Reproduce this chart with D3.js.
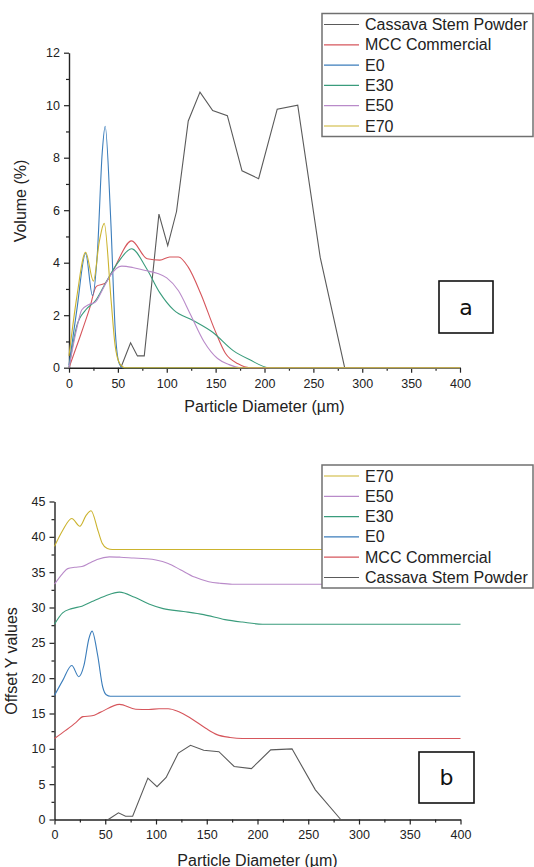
<!DOCTYPE html>
<html>
<head>
<meta charset="utf-8">
<script src="https://cdn.jsdelivr.net/npm/d3@7"></script>
<style>
  body { margin: 0; background: #fff; }
  svg { font-family: "Liberation Sans", Arial, sans-serif; }
</style>
</head>
<body>
<script>
// series (particle diameter in µm, volume in %)
const seriesNames = ["Cassava Stem Powder", "MCC Commercial", "E0", "E30", "E50", "E70"];

const cassavaX = [53, 63, 70, 77, 92, 101, 110, 122, 134, 147, 162, 177, 194, 213, 234, 257, 282];
const cassavaY = [0, 0.95, 0.45, 0.45, 5.85, 4.65, 5.95, 9.4, 10.5, 9.8, 9.6, 7.5, 7.2, 9.85, 10.0, 4.2, 0];

const mccX = [0, 11, 21, 28, 37, 45, 64, 80, 93, 103, 112, 122, 135, 149, 160, 173, 185, 400];
const mccY = [0, 1.15, 2.25, 3.1, 3.22, 3.7, 4.83, 4.15, 4.1, 4.22, 4.22, 3.83, 2.8, 1.45, 0.55, 0.15, 0, 0];

const e0X = [0, 8, 17, 24, 29, 34, 37, 42.5, 47.5, 51, 55, 400];
const e0Y = [0.1, 2.2, 4.35, 2.75, 4.35, 8.2, 9.2, 5.8, 1.3, 0.2, 0, 0];

const e30X = [0, 8, 17, 27, 37, 50, 64, 79, 93, 107, 127, 147, 168, 185, 205, 400];
const e30Y = [0, 1.6, 2.2, 2.55, 3.2, 4.0, 4.53, 3.8, 2.85, 2.2, 1.8, 1.35, 0.65, 0.3, 0, 0];

const e50X = [0, 8, 13, 20, 27, 34, 42, 54, 65, 78, 90, 100, 112, 124, 138, 152, 163, 175, 400];
const e50Y = [0, 1.5, 2.2, 2.4, 2.5, 2.95, 3.5, 3.87, 3.82, 3.7, 3.6, 3.42, 2.93, 2.05, 1.0, 0.35, 0.13, 0, 0];

const e70X = [0, 8, 17, 25, 31, 36, 43, 47, 52, 57, 400];
const e70Y = [0.45, 2.7, 4.4, 3.3, 4.8, 5.5, 2.6, 0.9, 0.15, 0, 0];

// vertical offsets used in panel b
const offsets = [0, 11.46, 17.45, 27.64, 33.3, 38.2];

const xTicks = [0, 50, 100, 150, 200, 250, 300, 350, 400];
const xMinor = [25, 75, 125, 175, 225, 275, 325, 375];
const yTicksA = [0, 2, 4, 6, 8, 10, 12];
const yMinorA = [1, 3, 5, 7, 9, 11];
const yTicksB = [0, 5, 10, 15, 20, 25, 30, 35, 40, 45];
const yMinorB = [2.5, 7.5, 12.5, 17.5, 22.5, 27.5, 32.5, 37.5, 42.5];

const colors = ["#5a5a5a", "#d6565c", "#3b7dbb", "#3a9c7c", "#b98ac9", "#cbb32e"];

const xs = [cassavaX, mccX, e0X, e30X, e50X, e70X];
const ys = [cassavaY, mccY, e0Y, e30Y, e50Y, e70Y];
const series = seriesNames.map(function(name, i) {
  return {
    name: name,
    color: colors[i],
    offset: offsets[i],
    points: xs[i].map(function(x, j) { return {x: x, y: ys[i][j]}; })
  };
});

const svg = d3.select("body")
  .append("svg")
  .attr("width", 534)
  .attr("height", 867);

function drawPanel(p) {
  const x = d3.scaleLinear().domain([0, 400]).range(p.xRange);
  const y = d3.scaleLinear().domain(p.yDomain).range(p.yRange);
  const g = svg.append("g");

  // minor ticks
  g.append("g")
    .attr("transform", "translate(0," + p.yRange[0] + ")")
    .call(d3.axisBottom(x).tickValues(xMinor).tickSize(3).tickFormat(""))
    .call(function(a) { a.select(".domain").remove(); });
  g.append("g")
    .attr("transform", "translate(" + p.xRange[0] + ",0)")
    .call(d3.axisLeft(y).tickValues(p.yMinor).tickSize(3).tickFormat(""))
    .call(function(a) { a.select(".domain").remove(); });

  g.append("g")
    .attr("transform", "translate(0," + p.yRange[0] + ")")
    .call(d3.axisBottom(x).tickValues(xTicks).tickSize(5).tickSizeOuter(0).tickPadding(6));
  g.append("g")
    .attr("transform", "translate(" + p.xRange[0] + ",0)")
    .call(d3.axisLeft(y).tickValues(p.yTicks).tickSize(5).tickSizeOuter(0).tickPadding(4));

  g.selectAll(".domain").attr("stroke", "#222").attr("stroke-width", 1.4);
  g.selectAll(".tick line").attr("stroke", "#222").attr("stroke-width", 1.2);
  g.selectAll(".tick text")
    .attr("font-family", "Liberation Sans, Arial, sans-serif")
    .attr("font-size", 12.5)
    .attr("fill", "#222");

  series.forEach(function(s) {
    const lg = d3.line()
      .x(function(d) { return x(d.x); })
      .y(function(d) { return y(d.y + (p.useOffset ? s.offset : 0)); })
      .curve(s.name === "Cassava Stem Powder" ? d3.curveLinear : d3.curveMonotoneX);
    g.append("path")
      .datum(s.points)
      .attr("d", lg)
      .attr("fill", "none")
      .attr("stroke", s.color)
      .attr("stroke-width", 1.1);
  });

  // axis titles
  g.append("text")
    .attr("x", (p.xRange[0] + p.xRange[1]) / 2)
    .attr("y", p.xTitleY)
    .attr("text-anchor", "middle")
    .attr("dominant-baseline", "central")
    .attr("font-size", 16)
    .attr("fill", "#222")
    .text("Particle Diameter (µm)");
  g.append("text")
    .attr("transform", "translate(" + p.yTitleX + "," + p.yTitleY + ") rotate(-90)")
    .attr("text-anchor", "middle")
    .attr("dominant-baseline", "central")
    .attr("font-size", 16)
    .attr("fill", "#222")
    .text(p.yTitle);

  // legend
  const lb = p.legend;
  g.append("rect")
    .attr("x", lb.x).attr("y", lb.y)
    .attr("width", lb.w).attr("height", lb.h)
    .attr("fill", "#fff")
    .attr("stroke", "#707070")
    .attr("stroke-width", 1.5);
  lb.order.forEach(function(idx, i) {
    const cy = lb.y + 11 + i * 20.3;
    g.append("line")
      .attr("x1", lb.x + 2).attr("x2", lb.x + 37)
      .attr("y1", cy).attr("y2", cy)
      .attr("stroke", series[idx].color)
      .attr("stroke-width", 1.2);
    g.append("text")
      .attr("x", lb.x + 43)
      .attr("y", cy)
      .attr("dominant-baseline", "central")
      .attr("font-size", 16)
      .attr("fill", "#222")
      .text(series[idx].name);
  });

  // panel letter
  const bx = p.letter;
  g.append("rect")
    .attr("x", bx.x).attr("y", bx.y)
    .attr("width", bx.w).attr("height", bx.h)
    .attr("fill", "#fff")
    .attr("stroke", "#111")
    .attr("stroke-width", 1.6);
  g.append("text")
    .attr("x", bx.x + bx.w / 2)
    .attr("y", bx.y + bx.h / 2)
    .attr("text-anchor", "middle")
    .attr("dominant-baseline", "central")
    .attr("font-family", "DejaVu Sans, Verdana, sans-serif")
    .attr("font-size", 22)
    .attr("fill", "#111")
    .text(bx.label);
}

drawPanel({
  xRange: [69, 460],
  yDomain: [0, 12],
  yRange: [367.7, 52.7],
  yTicks: yTicksA,
  yMinor: yMinorA,
  useOffset: false,
  xTitleY: 406,
  yTitle: "Volume (%)",
  yTitleX: 20,
  yTitleY: 201,
  legend: {x: 322, y: 13.5, w: 211, h: 123, order: [0, 1, 2, 3, 4, 5]},
  letter: {x: 439, y: 281, w: 54, h: 52, label: "a"}
});

drawPanel({
  xRange: [54.5, 460.5],
  yDomain: [0, 45],
  yRange: [819.5, 501.5],
  yTicks: yTicksB,
  yMinor: yMinorB,
  useOffset: true,
  xTitleY: 860,
  yTitle: "Offset Y values",
  yTitleX: 11,
  yTitleY: 661,
  legend: {x: 322, y: 465, w: 211, h: 123, order: [5, 4, 3, 2, 1, 0]},
  letter: {x: 419, y: 752, w: 55, h: 51, label: "b"}
});
</script>
</body>
</html>
